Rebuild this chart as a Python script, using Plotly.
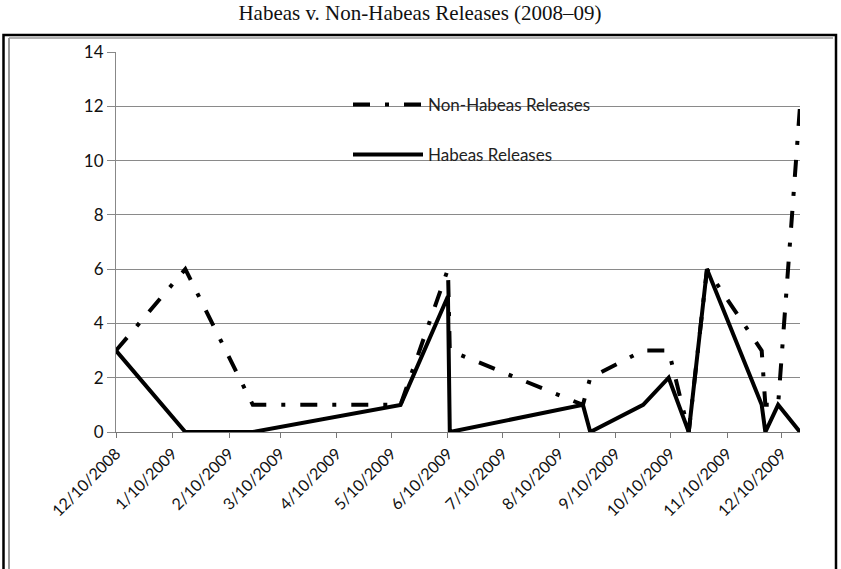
import plotly.graph_objects as go

# ---- data ----
habeas_dates = ["2008-12-10", "2009-01-17", "2009-02-23", "2009-05-15", "2009-06-10",
                "2009-06-11", "2009-08-23", "2009-08-27", "2009-09-25", "2009-10-09",
                "2009-10-20", "2009-10-30", "2009-11-29", "2009-12-01", "2009-12-08",
                "2009-12-20"]
habeas_values = [3, 0, 0, 1, 5, 0, 1, 0, 1, 2, 0, 6, 1, 0, 1, 0]

non_habeas_dates = habeas_dates
non_habeas_values = [3, 6, 1, 1, 6, 3, 1, 2, 3, 3, 0, 6, 3, 1, 1, 12]

tick_dates = ["2008-12-10", "2009-01-10", "2009-02-10", "2009-03-10", "2009-04-10",
              "2009-05-10", "2009-06-10", "2009-07-10", "2009-08-10", "2009-09-10",
              "2009-10-10", "2009-11-10", "2009-12-10"]
tick_labels = ["12/10/2008", "1/10/2009", "2/10/2009", "3/10/2009", "4/10/2009",
               "5/10/2009", "6/10/2009", "7/10/2009", "8/10/2009", "9/10/2009",
               "10/10/2009", "11/10/2009", "12/10/2009"]

title_text = "Habeas v. Non-Habeas Releases (2008\u201309)"

W, H = 841, 569
# plot area in pixels
SL, SR, ST, SB = 116, 800, 52, 432


def px(x):
    return (x - SL) / (SR - SL)


def py(y):
    return (SB - y) / (SB - ST)


FONT = "Lato, Calibri, 'Open Sans', sans-serif"

fig = go.Figure()
fig.add_trace(go.Scatter(
    x=non_habeas_dates, y=non_habeas_values, mode="lines",
    name="Non-Habeas Releases",
    line=dict(color="black", width=4, dash="17px,15px,4px,15px"),
    legend="legend",
))
fig.add_trace(go.Scatter(
    x=habeas_dates, y=habeas_values, mode="lines",
    name="Habeas Releases",
    line=dict(color="black", width=4),
    legend="legend2",
))

legend_common = dict(
    bgcolor="rgba(0,0,0,0)", borderwidth=0,
    font=dict(family=FONT, size=17, color="#222"),
    itemwidth=70, xanchor="left", yanchor="middle",
)

fig.update_layout(
    width=W, height=H,
    margin=dict(l=SL, r=W - SR, t=ST, b=H - SB, pad=0),
    paper_bgcolor="white", plot_bgcolor="white",
    title=dict(text=title_text, x=420 / W, xref="container", xanchor="center",
               y=1 - 13 / H, yanchor="middle", yref="container",
               font=dict(family="'Liberation Serif', 'Times New Roman', serif",
                         size=21, color="#111")),
    showlegend=True,
    legend=dict(x=px(348), y=py(105), **legend_common),
    legend2=dict(x=px(348), y=py(155), **legend_common),
    xaxis=dict(
        type="date", range=["2008-12-10", "2009-12-20"],
        tickmode="array", tickvals=tick_dates, ticktext=tick_labels,
        tickangle=-45, ticks="outside", ticklen=5, tickcolor="#777",
        showgrid=False, showline=True, linecolor="#777", linewidth=1,
        tickfont=dict(family=FONT, size=16, color="#111"),
        zeroline=False,
    ),
    yaxis=dict(
        range=[0, 14], tickvals=[0, 2, 4, 6, 8, 10, 12, 14],
        ticks="outside", ticklen=8, tickcolor="#888",
        showgrid=True, gridcolor="#8a8a8a", gridwidth=1,
        showline=True, linecolor="#888", linewidth=1,
        tickfont=dict(family=FONT, size=17, color="#111"),
        zeroline=False,
    ),
    shapes=[
        dict(type="rect", xref="paper", yref="paper",
             x0=px(3.5), x1=px(836), y0=py(590), y1=py(35),
             line=dict(color="black", width=2.5), fillcolor="rgba(0,0,0,0)",
             layer="above"),
        dict(type="line", xref="paper", yref="paper",
             x0=px(9), x1=px(9), y0=py(590), y1=py(38),
             line=dict(color="#999", width=2), layer="above"),
        dict(type="line", xref="paper", yref="paper",
             x0=px(9), x1=px(833), y0=py(38), y1=py(38),
             line=dict(color="#999", width=1.5), layer="above"),
    ],
)

fig.write_html("out.html", config={"displayModeBar": False},
               post_script="document.body.style.margin='0px';")
